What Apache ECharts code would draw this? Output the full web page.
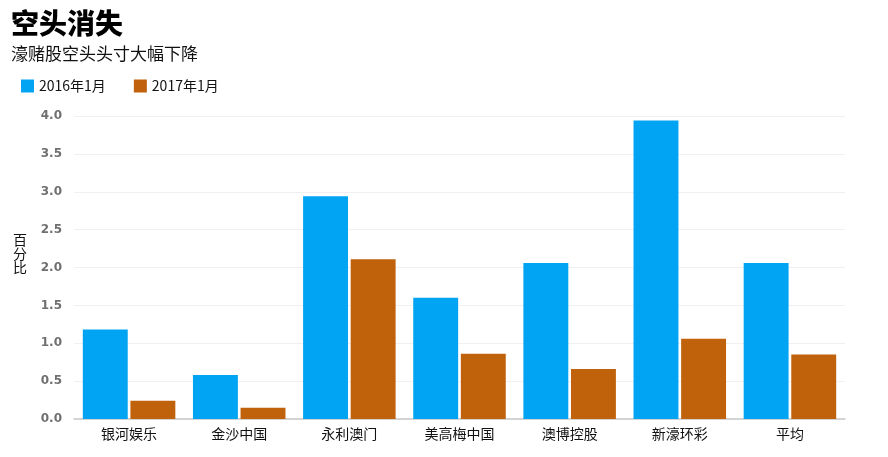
<!DOCTYPE html>
<html>
<head>
<meta charset="utf-8">
<title>空头消失</title>
<script src="https://cdn.jsdelivr.net/npm/echarts@6/dist/echarts.min.js"></script>
<style>
    html, body { margin: 0; padding: 0; background: #fff; }
    #main { width: 888px; height: 457px; }
</style>
</head>
<body>
<div id="main"></div>
<script>
// 公司名称
let categories = ['银河娱乐', '金沙中国', '永利澳门', '美高梅中国', '澳博控股', '新濠环彩', '平均'];
// 空头头寸占比 (百分比)
let jan2016 = [1.18, 0.58, 2.94, 1.60, 2.06, 3.94, 2.06];
let jan2017 = [0.24, 0.15, 2.11, 0.86, 0.66, 1.06, 0.85];
let yTicks = [0, 0.5, 1.0, 1.5, 2.0, 2.5, 3.0, 3.5, 4.0];

let FONT = '"Noto Sans CJK SC", "Noto Sans", sans-serif';

let myChart = echarts.init(document.getElementById('main'));
let option = {
    backgroundColor: '#fff',
    animation: false,
    title: [{
        text: '空头消失',
        left: 6,
        top: 4,
        textStyle: {fontFamily: FONT, fontSize: 28, fontWeight: 900, color: '#000'}
    }, {
        text: '濠赌股空头头寸大幅下降',
        left: 6,
        top: 40,
        textStyle: {fontFamily: FONT, fontSize: 17, fontWeight: 'normal', color: '#111'}
    }],
    legend: {
        left: 16,
        top: 74,
        icon: 'rect',
        itemWidth: 13,
        itemHeight: 13,
        itemGap: 28,
        textStyle: {fontFamily: FONT, fontSize: 14, color: '#111'},
        data: ['2016年1月', '2017年1月']
    },
    grid: {left: 74, right: 43, top: 116, bottom: 38},
    xAxis: {
        type: 'category',
        data: categories,
        axisLine: {lineStyle: {color: '#c8c8c8', width: 1.5}},
        axisTick: {alignWithLabel: true, length: 4, lineStyle: {color: '#c8c8c8'}},
        axisLabel: {fontFamily: FONT, fontSize: 14, color: '#111', margin: 8}
    },
    yAxis: {
        type: 'value',
        min: yTicks[0],
        max: yTicks[yTicks.length - 1],
        interval: 0.5,
        // 末尾空行用来把竖排标题往上挪一点
        name: '百\n分\n比\n\n',
        nameLocation: 'middle',
        nameRotate: 0,
        nameGap: 47,
        nameTextStyle: {fontFamily: FONT, fontSize: 14, color: '#111', lineHeight: 14},
        axisLine: {show: false},
        axisTick: {show: false},
        axisLabel: {
            fontFamily: '"DejaVu Sans", sans-serif',
            fontSize: 12,
            fontWeight: 'bold',
            color: '#707070',
            margin: 12,
            formatter: function (v) { return v.toFixed(1); }
        },
        splitLine: {lineStyle: {color: '#f0f0f0'}}
    },
    series: [
        {
            name: '2016年1月',
            type: 'bar',
            data: jan2016,
            barGap: '6%',
            barCategoryGap: '16%',
            itemStyle: {color: '#00a4f2'}
        },
        {
            name: '2017年1月',
            type: 'bar',
            data: jan2017,
            itemStyle: {color: '#c0620c'}
        }
    ]
};
myChart.setOption(option, true);
</script>
</body>
</html>
